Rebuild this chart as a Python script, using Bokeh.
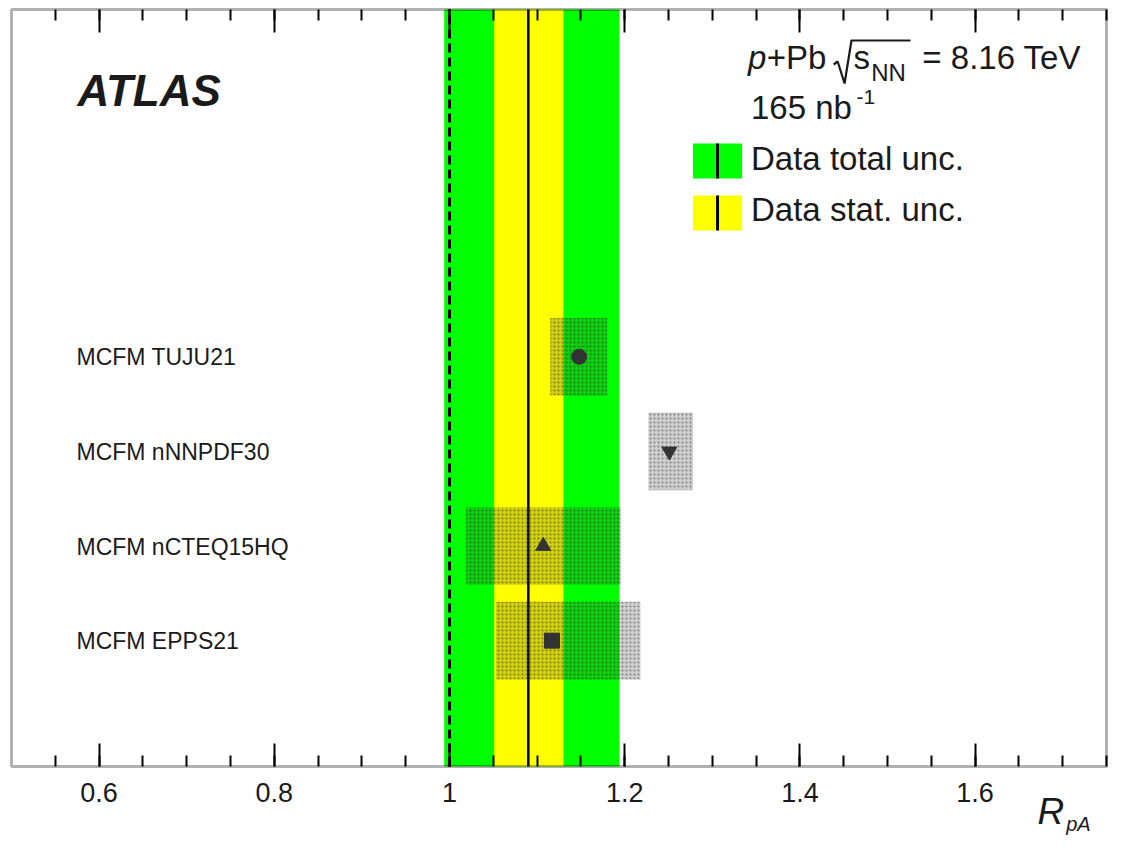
import numpy as np
from bokeh.plotting import figure
from bokeh.models import (Range1d, LinearAxis, FixedTicker, BoxAnnotation, Label,
                          ColumnDataSource)
from bokeh.core.properties import value
from bokeh.embed import file_html
from bokeh.resources import INLINE

# ---------------- data ----------------
rpa_value = [1.090]
stat_range = [1.051, 1.130]
total_range = [0.994, 1.194]
reference_value = [1.0]

models = ["MCFM TUJU21", "MCFM nNNPDF30", "MCFM nCTEQ15HQ", "MCFM EPPS21"]
model_center = [1.148, 1.251, 1.107, 1.117]
model_low = [1.115, 1.227, 1.019, 1.053]
model_high = [1.180, 1.278, 1.196, 1.218]
model_marker = ["circle", "inverted_triangle", "triangle", "square"]

tick_values = [0.6, 0.8, 1.0, 1.2, 1.4, 1.6]
tick_labels = ["0.6", "0.8", "1", "1.2", "1.4", "1.6"]
minor_tick_values = [round(v, 2) for v in np.arange(0.55, 1.751, 0.05)]

# ---------------- geometry ----------------
W, H = 1109, 837
X0, X1 = 0.5, 1.75          # axis range shown inside the frame box
Y0, Y1 = 0.0, 8.0
FL, FR = 11, 1106           # frame box left/right on canvas (px)
FT, FB = 9, 766             # frame box top/bottom on canvas (px)
sx = (FR - FL) / (X1 - X0)
sy = (FB - FT) / (Y1 - Y0)
xr = Range1d(X0 - FL / sx, X0 + (W - FL) / sx)
yr = Range1d(Y0 - (H - FB) / sy, Y1 + FT / sy)

def px2x(px):  # reference picture px -> data x
    return X0 + (px - 11) / 1112.0 * (X1 - X0)
def px2y(py):  # reference picture px -> data y
    return Y0 + (766 - py) / 757.0 * (Y1 - Y0)

FONT = "Liberation Sans"
TXT = "#1a1a1a"
BASE_SHIFT = 0.36   # renderer places "alphabetic" text this many em lower

p = figure(width=W, height=H, x_range=xr, y_range=yr,
           output_backend="svg", toolbar_location=None,
           x_axis_location=None, y_axis_location=None,
           min_border_left=0, min_border_right=0, min_border_top=0, min_border_bottom=0)
p.grid.visible = False
p.outline_line_color = None
p.background_fill_color = "white"
p.border_fill_color = "white"

def make_axis(show_labels, loc):
    ax = LinearAxis(ticker=FixedTicker(ticks=tick_values, minor_ticks=minor_tick_values),
                    fixed_location=loc)
    ax.major_label_overrides = {v: l for v, l in zip(tick_values, tick_labels)}
    ax.axis_line_color = None
    ax.major_tick_in = 23
    ax.major_tick_out = 0
    ax.minor_tick_in = 11
    ax.minor_tick_out = 0
    ax.major_tick_line_width = 2
    ax.minor_tick_line_width = 2
    ax.major_tick_line_color = "black"
    ax.minor_tick_line_color = "black"
    if show_labels:
        ax.major_label_text_font = FONT
        ax.major_label_text_font_size = "27px"
        ax.major_label_text_color = TXT
        ax.major_label_standoff = 16
    else:
        ax.major_label_text_font_size = "0px"
        ax.major_label_standoff = 0
        ax.major_label_text_alpha = 0
    return ax

# ---------------- data bands ----------------
p.quad(left=[total_range[0]], right=[total_range[1]], bottom=[Y0], top=[Y1],
       fill_color="#00ff00", line_color=None)
p.quad(left=[stat_range[0]], right=[stat_range[1]], bottom=[Y0], top=[Y1],
       fill_color="#ffff00", line_color=None)
p.segment(x0=reference_value, y0=[Y0], x1=reference_value, y1=[Y1],
          line_color="black", line_width=3, line_dash="9 5")
p.segment(x0=rpa_value, y0=[Y0], x1=rpa_value, y1=[Y1],
          line_color="black", line_width=2.5)

# ---------------- model predictions ----------------
row_y = [4.33 - i for i in range(len(models))]
half_h = 0.41
label_fs = 23
label_dy = (9 - BASE_SHIFT * label_fs) / sy
src = ColumnDataSource(dict(
    name=models, c=model_center, lo=model_low, hi=model_high, marker=model_marker,
    y=row_y, bottom=[y - half_h for y in row_y], top=[y + half_h for y in row_y],
    ty=[y - label_dy for y in row_y], tx=[px2x(77)] * len(models)))

p.quad(left="lo", right="hi", bottom="bottom", top="top", source=src,
       fill_color="#3a3a3a", fill_alpha=0.25, hatch_pattern="dot", hatch_color="#1a1a1a",
       hatch_alpha=0.45, hatch_scale=4, hatch_weight=1, line_color=None)
p.scatter(x="c", y="y", marker="marker", size=15, source=src,
          fill_color="#333333", line_color="#333333")
p.text(x="tx", y="ty", text="name", source=src, text_font=value(FONT),
       text_font_size=f"{label_fs}px", text_color=TXT, text_baseline="alphabetic")

# axes (drawn at the frame box edges) and frame box
p.add_layout(make_axis(True, Y0), "below")
p.add_layout(make_axis(False, Y1), "above")
p.add_layout(BoxAnnotation(left=X0, right=X1, bottom=Y0, top=Y1, fill_alpha=0,
                           fill_color=None, line_color="black", line_width=3))

# ---------------- labels ----------------
def lab(text, px, py, fs, style="normal", align="left"):
    p.add_layout(Label(x=px2x(px), y=px2y(py - BASE_SHIFT * fs), text=text, text_font=FONT,
                       text_font_size=f"{fs}px", text_font_style=style, text_color=TXT,
                       text_align=align, text_baseline="alphabetic"))

lab("ATLAS", 78, 106, 44, "bold italic")

# header: p+Pb sqrt(s_NN) = 8.16 TeV
lab("p", 759, 69, 33, "italic")
lab("+Pb", 778, 69, 33)
rad_px = [(846, 64), (850, 61), (857, 83), (864, 40), (924, 40)]
p.line(x=[px2x(a) for a, b in rad_px], y=[px2y(b) for a, b in rad_px],
       line_color=TXT, line_width=2.2)
lab("s", 866, 69, 33)
lab("NN", 884, 81, 24)
lab("= 8.16 TeV", 936, 69, 33)
lab("165 nb", 762, 119, 33)
lab("-1", 869, 104, 21)

# legend boxes
for top_px, col in [(143, "#00ff00"), (195, "#ffff00")]:
    p.add_layout(BoxAnnotation(left=px2x(703), right=px2x(753), top=px2y(top_px),
                               bottom=px2y(top_px + 35), fill_color=col, fill_alpha=1.0,
                               line_color=None))
    p.add_layout(BoxAnnotation(left=px2x(726.5), right=px2x(729.5), top=px2y(top_px),
                               bottom=px2y(top_px + 35), fill_color="black", fill_alpha=1.0,
                               line_color=None))
lab("Data total unc.", 762, 170, 33)
lab("Data stat. unc.", 762, 221, 33)

# axis title R_pA
lab("R", 1053, 824, 37, "italic")
lab("pA", 1082, 831, 20, "italic")

open("out.html", "w").write(file_html(p, INLINE))
